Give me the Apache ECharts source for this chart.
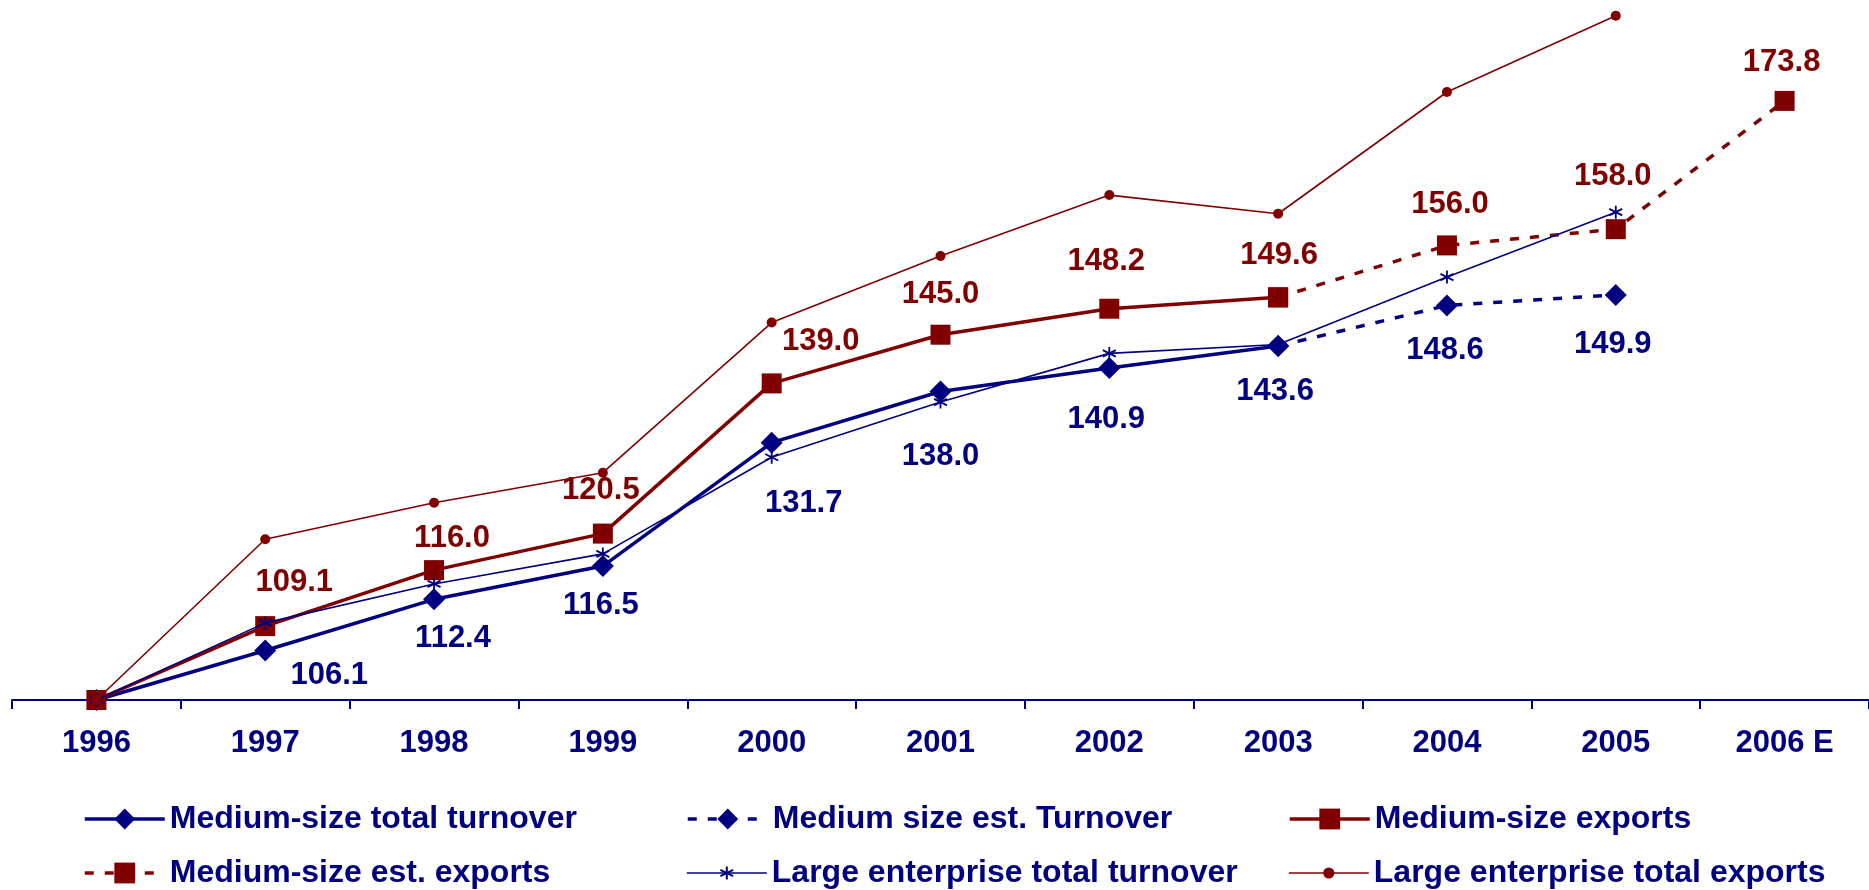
<!DOCTYPE html>
<html>
<head>
<meta charset="utf-8">
<script src="https://cdn.jsdelivr.net/npm/echarts@6/dist/echarts.min.js"></script>
<style>
html,body{margin:0;padding:0;background:#fff;}
#chart{width:1869px;height:890px;}
</style>
</head>
<body>
<div id="chart"></div>
<script>
// ---- data ----
const years = ['1996','1997','1998','1999','2000','2001','2002','2003','2004','2005','2006 E'];
const mediumTurnover     = [100, 106.1, 112.4, 116.5, 131.7, 138.0, 140.9, 143.6, null, null, null];
const mediumTurnoverEst  = [null, null, null, null, null, null, null, 143.6, 148.6, 149.9, null];
const mediumExports      = [100, 109.1, 116.0, 120.5, 139.0, 145.0, 148.2, 149.6, null, null, null];
const mediumExportsEst   = [null, null, null, null, null, null, null, 149.6, 156.0, 158.0, 173.8];
const largeTurnover      = [100, 109.5, 114.3, 118.0, 129.9, 136.7, 142.7, 143.8, 152.1, 160.1, null];
const largeExports       = [100, 119.8, 124.3, 128.0, 146.5, 154.7, 162.2, 159.9, 174.9, 184.3, null];
const seriesNames = ['Medium-size total turnover','Medium size est. Turnover','Medium-size exports',
                     'Medium-size est. exports','Large enterprise total turnover','Large enterprise total exports'];

// ---- label placement (style, not data) ----
const turnoverLabelOffsets = [null,[64,25],[19,39],[-2,39],[32,61],[0,65],[-3,51],[-3,45],[-2,45],[-3,50],null];
const exportLabelOffsets   = [null,[29,-44],[18,-32],[-2,-43],[49,-42],[0,-40],[-3,-47],[1,-42],[3,-41],[-3,-53],[-3,-38]];

const NAVY = '#000080', RED = '#800000';
const FONT = '"Liberation Sans", Arial, sans-serif';

function withLabels(values, offsets, color, skipIdx) {
  return values.map((v, i) => {
    if (v === null) return null;
    const show = offsets[i] !== null && i !== skipIdx;
    return {
      value: v,
      label: show ? {show: true, position: 'inside', offset: offsets[i], color: color,
                      fontFamily: FONT, fontWeight: 'bold', fontSize: 31,
                      formatter: p => Number(p.value).toFixed(1)} : {show: false}
    };
  });
}

const asterisk = 'path://M5,0L5,10M0.7,2.5L9.3,7.5M9.3,2.5L0.7,7.5';

const chart = echarts.init(document.getElementById('chart'), null, {renderer: 'canvas'});

function legendAt(name, left, top, lineWidth, dashed, itemHeight) {
  return {
    data: [name], left: left, top: top, orient: 'horizontal', padding: 0,
    itemWidth: 80, itemHeight: itemHeight, itemGap: 7,
    lineStyle: {width: lineWidth, type: dashed ? [9, 11] : 'solid'},
    textStyle: {color: NAVY, fontFamily: FONT, fontWeight: 'bold', fontSize: 32},
    selectedMode: false
  };
}

chart.setOption({
  animation: false,
  backgroundColor: '#fff',
  grid: {left: 12, right: 0, top: 10, bottom: 190, containLabel: false},
  legend: [
    legendAt(seriesNames[0], 83, 803, 3.5, false, 26),
    legendAt(seriesNames[1], 686, 803, 3.5, true, 26),
    legendAt(seriesNames[2], 1288, 803, 3.5, false, 26),
    legendAt(seriesNames[3], 83, 857, 3.5, true, 26),
    legendAt(seriesNames[4], 686, 857, 1.6, false, 16),
    legendAt(seriesNames[5], 1288, 857, 1.6, false, 14)
  ],
  xAxis: {
    type: 'category', data: years, boundaryGap: true,
    axisLine: {show: true, lineStyle: {color: NAVY, width: 2}},
    axisTick: {show: true, interval: 0, length: 9, lineStyle: {color: NAVY, width: 2}},
    axisLabel: {color: NAVY, fontFamily: FONT, fontWeight: 'bold', fontSize: 31, margin: 28, interval: 0},
    splitLine: {show: false}
  },
  yAxis: {
    type: 'value', min: 100, max: 185, show: false, splitLine: {show: false}
  },
  series: [
    {
      name: seriesNames[0], type: 'line', data: withLabels(mediumTurnover, turnoverLabelOffsets, NAVY, -1),
      symbol: 'diamond', symbolSize: 22, color: NAVY,
      lineStyle: {color: NAVY, width: 3.5}, itemStyle: {color: NAVY}, z: 2
    },
    {
      name: seriesNames[1], type: 'line', data: withLabels(mediumTurnoverEst, turnoverLabelOffsets, NAVY, 7),
      symbol: 'diamond', symbolSize: 22, color: NAVY,
      lineStyle: {color: NAVY, width: 3.5, type: [9, 11]}, itemStyle: {color: NAVY}, z: 2
    },
    {
      name: seriesNames[2], type: 'line', data: withLabels(mediumExports, exportLabelOffsets, RED, -1),
      symbol: 'rect', symbolSize: 20, color: RED,
      lineStyle: {color: RED, width: 3.5}, itemStyle: {color: RED}, z: 3
    },
    {
      name: seriesNames[3], type: 'line', data: withLabels(mediumExportsEst, exportLabelOffsets, RED, 7),
      symbol: 'rect', symbolSize: 20, color: RED,
      lineStyle: {color: RED, width: 3.5, type: [9, 11]}, itemStyle: {color: RED}, z: 3
    },
    {
      name: seriesNames[4], type: 'line', data: largeTurnover,
      symbol: asterisk, symbolSize: 13, color: NAVY,
      lineStyle: {color: NAVY, width: 1.6},
      itemStyle: {color: 'rgba(0,0,0,0)', borderColor: NAVY, borderWidth: 1.8}, z: 4
    },
    {
      name: seriesNames[5], type: 'line', data: largeExports,
      symbol: 'circle', symbolSize: 10, color: RED,
      lineStyle: {color: RED, width: 1.6}, itemStyle: {color: RED}, z: 4
    }
  ]
});
</script>
</body>
</html>
